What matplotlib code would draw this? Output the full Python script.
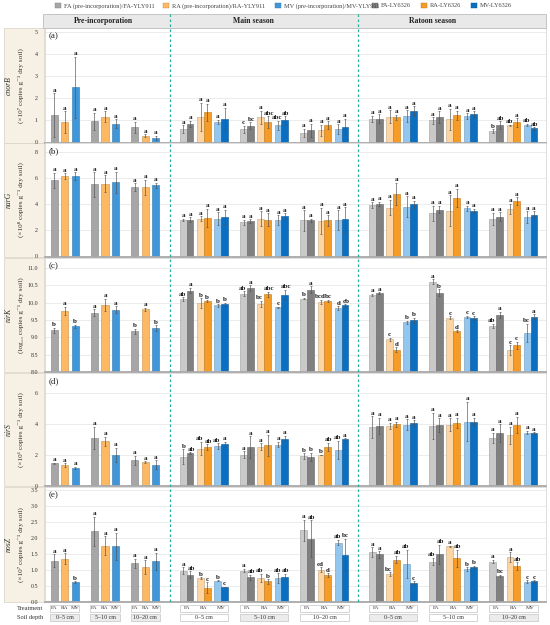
import matplotlib
matplotlib.use("Agg")
import matplotlib.pyplot as plt
from matplotlib.patches import Rectangle
from matplotlib.lines import Line2D
from matplotlib.colors import to_rgb

W, H = 550, 625
SERIF = ["Liberation Serif", "DejaVu Serif"]
plt.rcParams["font.family"] = SERIF

# ---------------- data ----------------
seasons = ["Pre-incorporation", "Main season", "Ratoon season"]
depths = ["0–5 cm", "5–10 cm", "10–20 cm"]
treatments = ["FA", "RA", "MV"]
legend_labels = ["FA (pre-incorporation)/FA-YLY911", "RA (pre-incorporation)/RA-YLY911",
                 "MV (pre-incorporation)/MV-YLY911", "FA-LY6326", "RA-LY6326", "MV-LY6326"]
genes = ["cnorB", "narG", "nirK", "nirS", "nosZ"]
units = ["(×10⁷ copies g⁻¹ dry soil)", "(×10⁸ copies g⁻¹ dry soil)",
         "(log₁₀ copies g⁻¹ dry soil)", "(×10⁶ copies g⁻¹ dry soil)",
         "(×10⁷ copies g⁻¹ dry soil)"]

# pre-incorporation: one row per depth, columns FA, RA, MV
# main / ratoon: one row per depth, columns FA-YLY911, FA-LY6326, RA-YLY911, RA-LY6326, MV-YLY911, MV-LY6326
cnorB_pre = [[1.23, 0.91, 2.50], [0.96, 1.17, 0.85], [0.70, 0.30, 0.20]]
cnorB_pre_err = [[1.00, 0.50, 1.40], [0.38, 0.25, 0.20], [0.25, 0.07, 0.10]]
cnorB_pre_sig = [["a", "a", "a"], ["a", "a", "a"], ["a", "a", "a"]]
cnorB_main = [[0.62, 0.85, 1.17, 1.37, 0.93, 1.08], [0.60, 0.76, 1.14, 0.93, 0.79, 1.00], [0.43, 0.56, 0.55, 0.78, 0.61, 0.70]]
cnorB_main_err = [[0.17, 0.13, 0.63, 0.38, 0.10, 0.50], [0.16, 0.15, 0.30, 0.27, 0.20, 0.20], [0.20, 0.30, 0.25, 0.18, 0.22, 0.38]]
cnorB_main_sig = [["a"] * 6, ["c", "bc", "a", "abc", "abc", "ab"], ["a"] * 6]
cnorB_rat = [[1.07, 1.08, 1.17, 1.14, 1.19, 1.42], [1.00, 1.16, 1.05, 1.23, 1.20, 1.28], [0.52, 0.78, 0.78, 0.91, 0.79, 0.64]]
cnorB_rat_err = [[0.15, 0.20, 0.30, 0.13, 0.27, 0.23], [0.14, 0.26, 0.49, 0.20, 0.13, 0.14], [0.09, 0.18, 0.03, 0.20, 0.05, 0.06]]
cnorB_rat_sig = [["a"] * 6, ["a"] * 6, ["b", "ab", "ab", "a", "ab", "ab"]]

narG_pre = [[5.83, 6.16, 6.14], [5.52, 5.58, 5.68], [5.32, 5.29, 5.45]]
narG_pre_err = [[0.60, 0.22, 0.30], [0.95, 0.64, 0.80], [0.30, 0.60, 0.20]]
narG_pre_sig = [["a", "a", "a"], ["a", "a", "a"], ["a", "a", "a"]]
narG_main = [[2.79, 2.81, 2.89, 2.97, 2.89, 3.02], [2.63, 2.71, 2.89, 2.81, 2.79, 3.10], [2.76, 2.76, 2.74, 2.76, 2.79, 2.84]]
narG_main_err = [[0.10, 0.20, 0.20, 0.70, 0.50, 0.56], [0.18, 0.13, 0.56, 0.50, 0.36, 0.22], [0.77, 0.13, 1.00, 0.39, 0.74, 0.95]]
narG_main_sig = [["a"] * 6, ["a"] * 6, ["a"] * 6]
narG_rat = [[3.95, 4.05, 3.75, 4.80, 3.80, 4.00], [3.30, 3.60, 3.50, 4.50, 3.70, 3.50], [2.90, 3.05, 3.65, 4.25, 3.00, 3.20]]
narG_rat_err = [[0.20, 0.15, 0.60, 0.85, 0.80, 0.25], [0.60, 0.30, 1.20, 0.70, 0.20, 0.15], [0.45, 0.35, 0.40, 0.30, 0.45, 0.25]]
narG_rat_sig = [["a"] * 6, ["a"] * 6, ["a"] * 6]

nirK_pre = [[9.20, 9.77, 9.32], [9.71, 9.94, 9.80], [9.17, 9.81, 9.27]]
nirK_pre_err = [[0.08, 0.12, 0.05], [0.10, 0.17, 0.10], [0.07, 0.04, 0.08]]
nirK_pre_sig = [["b", "a", "b"], ["a", "a", "a"], ["b", "a", "b"]]
nirK_main = [[10.10, 10.35, 9.99, 10.04, 9.92, 9.95], [10.26, 10.42, 9.97, 10.24, 9.87, 10.23], [10.12, 10.37, 10.02, 10.05, 9.85, 9.92]]
nirK_main_err = [[0.06, 0.08, 0.14, 0.03, 0.03, 0.05], [0.07, 0.08, 0.09, 0.07, 0.02, 0.14], [0.02, 0.10, 0.07, 0.03, 0.05, 0.04]]
nirK_main_sig = [["ab", "a", "b", "b", "b", "b"], ["ab", "a", "bc", "abc", "c", "abc"], ["b", "a", "bcd", "bc", "d", "cb"]]
nirK_rat = [[10.23, 10.27, 8.94, 8.64, 9.43, 9.49], [10.60, 10.29, 9.57, 9.17, 9.59, 9.56], [9.33, 9.65, 8.63, 8.77, 9.13, 9.59]]
nirK_rat_err = [[0.03, 0.03, 0.05, 0.07, 0.05, 0.07], [0.07, 0.10, 0.04, 0.03, 0.04, 0.05], [0.06, 0.08, 0.14, 0.11, 0.26, 0.07]]
nirK_rat_sig = [["a", "a", "c", "d", "b", "b"], ["a", "b", "c", "d", "c", "c"], ["ab", "a", "c", "c", "bc", "a"]]

nirS_pre = [[1.47, 1.34, 1.17], [3.11, 2.89, 2.00], [1.66, 1.55, 1.38]]
nirS_pre_err = [[0.04, 0.13, 0.08], [0.71, 0.30, 0.47], [0.28, 0.05, 0.28]]
nirS_pre_sig = [["a", "a", "a"], ["a", "a", "a"], ["a", "a", "a"]]
nirS_main = [[1.90, 2.12, 2.42, 2.53, 2.59, 2.70], [2.03, 2.53, 2.53, 2.63, 2.68, 3.06], [1.94, 1.90, 2.00, 2.53, 2.33, 3.02]]
nirS_main_err = [[0.47, 0.06, 0.43, 0.17, 0.17, 0.15], [0.21, 0.70, 0.23, 0.70, 0.17, 0.18], [0.18, 0.26, 0.02, 0.27, 0.58, 0.08]]
nirS_main_sig = [["b", "ab", "ab", "ab", "ab", "a"], ["a"] * 6, ["b", "b", "b", "ab", "ab", "a"]]
nirS_rat = [[3.82, 3.89, 3.89, 3.99, 3.97, 4.08], [3.89, 3.95, 3.97, 4.10, 4.17, 4.17], [3.11, 3.41, 3.28, 3.95, 3.45, 3.43]]
nirS_rat_err = [[0.70, 0.53, 0.21, 0.18, 0.35, 0.17], [0.86, 0.43, 0.41, 0.32, 1.27, 0.25], [0.34, 0.58, 0.56, 0.52, 0.11, 0.04]]
nirS_rat_sig = [["a"] * 6, ["a"] * 6, ["a"] * 6]

nosZ_pre = [[1.29, 1.34, 0.62], [2.20, 1.75, 1.74], [1.21, 1.08, 1.27]]
nosZ_pre_err = [[0.20, 0.17, 0.02], [0.45, 0.30, 0.42], [0.14, 0.22, 0.27]]
nosZ_pre_sig = [["a", "a", "b"], ["a", "a", "a"], ["a", "a", "a"]]
nosZ_main = [[0.98, 0.85, 0.75, 0.44, 0.66, 0.46], [0.98, 0.77, 0.75, 0.64, 0.75, 0.79], [2.23, 1.97, 1.00, 0.84, 1.85, 1.47]]
nosZ_main_err = [[0.10, 0.10, 0.02, 0.17, 0.02, 0.02], [0.05, 0.08, 0.12, 0.07, 0.15, 0.08], [0.33, 0.57, 0.08, 0.06, 0.08, 0.49]]
nosZ_main_sig = [["a", "ab", "b", "c", "b", "c"], ["a", "ab", "ab", "b", "ab", "ab"], ["a", "ab", "cd", "d", "ab", "bc"]]
nosZ_rat = [[1.55, 1.48, 0.87, 1.32, 1.18, 0.60], [1.26, 1.48, 1.73, 1.36, 1.03, 1.08], [1.26, 0.82, 1.39, 1.11, 0.63, 0.64]]
nosZ_rat_err = [[0.15, 0.10, 0.05, 0.12, 0.44, 0.04], [0.11, 0.30, 0.02, 0.26, 0.05, 0.05], [0.05, 0.03, 0.16, 0.12, 0.05, 0.04]]
nosZ_rat_sig = [["a", "a", "bc", "ab", "ab", "c"], ["ab", "ab", "a", "ab", "b", "b"], ["a", "bc", "a", "ab", "c", "c"]]

# ---------------- style / layout ----------------
pre_colors = ["#a6a6a6", "#fcb862", "#3f97d9"]
yly_colors = ["#c9c9c9", "#fdd5a3", "#93c6ee"]
ly_colors = ["#808080", "#f59b26", "#0b6fc1"]


def darker(c, f=0.78):
    r, g, b = to_rgb(c)
    return (r * f, g * f, b * f)


X0, X1 = 45, 546
pre_x0, pre_gap, pre_step, pre_w = 64.7, 40.3, 10.6, 7.2
season_x0 = [204.0, 393.0]
s_gap, s_step, s_w = 60.2, 17.2, 6.7
dash_x = [169.7, 358.3]

# panel boxes in pixels: top, bottom, ylim, ticks, tick format
panel_box = [
    (28, 142.5, (0, 5.2), [0, 1, 2, 3, 4, 5], "{:.0f}"),
    (143, 256.5, (0, 8.7), [0, 2, 4, 6, 8], "{:.0f}"),
    (258, 372, (8, 11.29), [8.0, 8.5, 9.0, 9.5, 10.0, 10.5, 11.0], "{:.1f}"),
    (373, 486, (0, 7.31), [0, 2, 4, 6], "{:.0f}"),
    (487, 602, (0, 3.58), [0.0, 0.5, 1.0, 1.5, 2.0, 2.5, 3.0, 3.5], "{:.1f}"),
]

panel_data = [
    (cnorB_pre, cnorB_pre_err, cnorB_pre_sig, cnorB_main, cnorB_main_err, cnorB_main_sig, cnorB_rat, cnorB_rat_err, cnorB_rat_sig),
    (narG_pre, narG_pre_err, narG_pre_sig, narG_main, narG_main_err, narG_main_sig, narG_rat, narG_rat_err, narG_rat_sig),
    (nirK_pre, nirK_pre_err, nirK_pre_sig, nirK_main, nirK_main_err, nirK_main_sig, nirK_rat, nirK_rat_err, nirK_rat_sig),
    (nirS_pre, nirS_pre_err, nirS_pre_sig, nirS_main, nirS_main_err, nirS_main_sig, nirS_rat, nirS_rat_err, nirS_rat_sig),
    (nosZ_pre, nosZ_pre_err, nosZ_pre_sig, nosZ_main, nosZ_main_err, nosZ_main_sig, nosZ_rat, nosZ_rat_err, nosZ_rat_sig),
]

fig = plt.figure(figsize=(W / 100, H / 100), dpi=100)


def px_axes(x0, y0, x1, y1):
    return fig.add_axes([x0 / W, 1 - y1 / H, (x1 - x0) / W, (y1 - y0) / H])


def fig_rect(x0, y0, x1, y1, **kw):
    r = Rectangle((x0 / W, 1 - y1 / H), (x1 - x0) / W, (y1 - y0) / H,
                  transform=fig.transFigure, **kw)
    fig.add_artist(r)
    return r


def draw_bars(ax, xs, vals, errs, sigs, colors, width, paired=False):
    ax.bar(xs, vals, width=width, color=colors, edgecolor=[darker(c) for c in colors],
           linewidth=0.4, zorder=2)
    ax.errorbar(xs, vals, yerr=errs, fmt="none", ecolor="#505050", elinewidth=0.45,
                capsize=1.0, capthick=0.45, zorder=3)
    for j, (x, v, e, s) in enumerate(zip(xs, vals, errs, sigs)):
        dx = 0
        if paired and len(s) > 1:
            dx = -0.7 if j % 2 == 0 else 0.7
        ax.annotate(s, (x, v + e), xytext=(dx, 0.4), textcoords="offset points",
                    ha="center", va="bottom", fontsize=5.0, fontweight="bold",
                    color="#1a1a1a", zorder=4)


pre_pos = [[pre_x0 + g * pre_gap + (t - 1) * pre_step for t in range(3)] for g in range(3)]
season_pos = []
for sx in season_x0:
    rows = []
    for g in range(3):
        row = []
        for t in range(3):
            c = sx + g * s_gap + (t - 1) * s_step
            row += [c - s_w / 2, c + s_w / 2]
        rows.append(row)
    season_pos.append(rows)

for i, (top, bot, ylim, ticks, fmt) in enumerate(panel_box):
    fig_rect(4, top, 44, bot, facecolor="#f6f1e4", edgecolor="#d8d2c2", linewidth=0.5, zorder=-1)
    ax = px_axes(X0, top, X1, bot)
    ax.set_xlim(X0, X1)
    ax.set_ylim(*ylim)
    ax.set_xticks([])
    ax.set_yticks(ticks)
    ax.set_yticklabels([fmt.format(t) for t in ticks])
    ax.tick_params(axis="y", length=0, pad=5, labelsize=4.3, labelcolor="#333333")
    ax.yaxis.grid(True, color="#e4e4e4", linewidth=0.5)
    ax.set_axisbelow(True)
    for side in ["left", "right", "top"]:
        ax.spines[side].set_color("#d0d0d0")
        ax.spines[side].set_linewidth(0.5)
    ax.spines["bottom"].set_color("#a8a8a8")
    ax.spines["bottom"].set_linewidth(1.3)

    d = panel_data[i]
    pre, pre_e, pre_s = d[0], d[1], d[2]
    for g in range(3):
        draw_bars(ax, pre_pos[g], pre[g], pre_e[g], pre_s[g], pre_colors, pre_w)
    for k in range(2):
        vals, errs, sigs = d[3 + 3 * k], d[4 + 3 * k], d[5 + 3 * k]
        cols = [yly_colors[0], ly_colors[0], yly_colors[1], ly_colors[1], yly_colors[2], ly_colors[2]]
        for g in range(3):
            draw_bars(ax, season_pos[k][g], vals[g], errs[g], sigs[g], cols, s_w, paired=True)

    fig.text(48.5 / W, 1 - (top + 8) / H, "(" + "abcde"[i] + ")", fontsize=6.5,
             ha="left", va="center", color="#222222")
    mid = (top + bot) / 2
    fig.text(9 / W, 1 - mid / H, genes[i], rotation=90, fontsize=5.5, style="italic",
             ha="center", va="center", color="#333333")
    fig.text(21 / W, 1 - mid / H, units[i], rotation=90, fontsize=5.2,
             ha="center", va="center", color="#333333")

# header row
fig_rect(43, 14, 546, 27.5, facecolor="#e9e9e9", edgecolor="#bdbdbd", linewidth=0.6)
for name, cx in zip(seasons, [103.5, 253, 432.5]):
    fig.text(cx / W, 1 - 20.8 / H, name, fontsize=5.6, fontweight="bold",
             ha="center", va="center", color="#222222")

# dashed season separators
for x in dash_x:
    fig.add_artist(Line2D([x / W, x / W], [1 - 14 / H, 1 - 602 / H], transform=fig.transFigure,
                          color="#22b39c", linewidth=0.9, linestyle=(0, (2, 2))))

# legend
leg_sq_x = [58, 166, 278, 375, 424, 474]
leg_cols = pre_colors + ly_colors
for x, c, lab in zip(leg_sq_x, leg_cols, legend_labels):
    fig_rect(x - 2.6, 3, x + 2.6, 8.4, facecolor=c, edgecolor=darker(c), linewidth=0.3)
    fig.text((x + 6) / W, 1 - 5.8 / H, lab, fontsize=4.6, ha="left", va="center", color="#444444")

# treatment / soil depth rows
bax = px_axes(X0, 603, X1, 623)
bax.set_xlim(X0, X1)
bax.set_ylim(623, 603)
bax.axis("off")
fig.text(30 / W, 1 - 608.3 / H, "Treatment", fontsize=4.6, ha="center", va="center", color="#333333")
fig.text(30 / W, 1 - 617.6 / H, "Soil depth", fontsize=4.6, ha="center", va="center", color="#333333")

depth_fill = [["#ececec", "#ececec", "#ececec"], ["white", "#ececec", "white"], ["#ececec", "white", "#ececec"]]
for g in range(3):
    xl, xr = pre_pos[g][0] - pre_w / 2 - 0.4, pre_pos[g][2] + pre_w / 2 + 0.4
    bax.add_patch(Rectangle((xl, 605), xr - xl, 6.8, facecolor="white", edgecolor="#c4c4c4", lw=0.5))
    bax.add_patch(Rectangle((xl, 614), xr - xl, 7, facecolor=depth_fill[0][g], edgecolor="#c4c4c4", lw=0.5))
    for t in range(3):
        bax.text(pre_pos[g][t], 608.4, treatments[t], fontsize=3.9, ha="center", va="center", color="#333333")
    bax.text((xl + xr) / 2, 617.6, depths[g], fontsize=4.3, ha="center", va="center", color="#333333")
for k in range(2):
    for g in range(3):
        xs = season_pos[k][g]
        xl, xr = xs[0] - s_w / 2 - 0.4, xs[-1] + s_w / 2 + 0.4
        bax.add_patch(Rectangle((xl, 605), xr - xl, 6.8, facecolor="white", edgecolor="#c4c4c4", lw=0.5))
        bax.add_patch(Rectangle((xl, 614), xr - xl, 7, facecolor=depth_fill[k + 1][g], edgecolor="#c4c4c4", lw=0.5))
        for t in range(3):
            bax.text((xs[2 * t] + xs[2 * t + 1]) / 2, 608.4, treatments[t], fontsize=3.9,
                     ha="center", va="center", color="#333333")
        bax.text((xl + xr) / 2, 617.6, depths[g], fontsize=4.3, ha="center", va="center", color="#333333")

fig.savefig("out.png", dpi=100)
